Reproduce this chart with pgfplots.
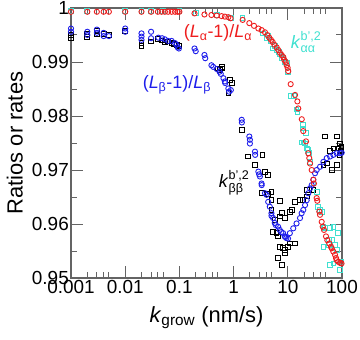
\documentclass[border=0pt]{standalone}
\usepackage{fontspec}
\setmainfont{Liberation Sans}
\usepackage{amsmath}
\usepackage{pgfplots}
\pgfplotsset{compat=1.18}
\definecolor{cred}{RGB}{238,30,30}
\definecolor{cblue}{RGB}{30,30,235}
\definecolor{ccyan}{RGB}{64,224,208}
\definecolor{caxis}{RGB}{100,100,100}
\begin{document}
\begin{tikzpicture}
\path[use as bounding box] (-71bp,-62bp) rectangle (289bp,278bp);
\begin{axis}[
    at={(0,0)}, anchor=south west,
    scale only axis, width=271bp, height=270bp,
    xmode=log, xmin=0.001, xmax=100, ymin=0.95, ymax=1,
    xtick={0.001,0.01,0.1,1,10,100},
    xticklabels={0.001,0.01,0.1,1,10,100},
    minor xtick={0.002,0.003,0.004,0.005,0.02,0.03,0.04,0.05,0.2,0.3,0.4,0.5,2,3,4,5,20,30,40,50},
    ytick={0.95,0.96,0.97,0.98,0.99,1},
    yticklabels={0.95,0.96,0.97,0.98,0.99,1},
    minor ytick={0.955,0.965,0.975,0.985,0.995},
    /pgf/number format/assume math mode=true,
    tick align=inside,
    major tick length=12bp, minor tick length=6bp,
    axis line style={caxis, line width=1.3pt},
    every tick/.style={caxis, line width=1pt},
    tick label style={font=\fontsize{19}{19}\selectfont},
    xticklabel style={inner sep=2bp},
    yticklabel style={inner sep=2bp},
    label style={font=\fontsize{22}{22}\selectfont},
    xlabel={\textit{k}\textsubscript{grow} (nm/s)},
    ylabel={Ratios or rates},
    xlabel style={at={(axis description cs:0.5,-0.148)}, anchor=center},
    ylabel style={at={(axis description cs:-0.207,0.5)}, anchor=center},
    mark options={solid, line width=0.9pt},
]
% k_bb^{b',2}
\addplot[only marks, mark=square, mark size=2.4pt, black] coordinates {
(0.001,0.9950)(0.001,0.9944)(0.002,0.9952)(0.002,0.9947)(0.003,0.9957)(0.003,0.9951)
(0.004,0.9952)(0.005,0.9950)(0.01,0.9958)(0.02,0.9936)(0.02,0.9930)(0.03,0.9938)
(0.04,0.9942)(0.047,0.9940)(0.054,0.9937)(0.062,0.9938)(0.072,0.9936)(0.08,0.9934)
(0.09,0.9932)(0.1,0.9929)(0.52,0.9888)(0.56,0.9885)(0.6,0.9891)(0.62,0.9888)
(0.86,0.9867)(0.92,0.9861)(0.8,0.9842)(1.41,0.9774)(1.86,0.9725)(3.42,0.9728)
(2.48,0.9709)(3.79,0.9697)(4.35,0.9691)(3.28,0.9657)(4.35,0.9656)(4.99,0.9644)
(7.2,0.9643)(4.99,0.9626)(5.74,0.9607)(7.2,0.9614)(8.8,0.9611)(10.9,0.9623)
(6.6,0.9577)(7.2,0.9558)(10.1,0.9558)(4.99,0.9660)(7.7,0.9620)(11.8,0.9626)
(13.6,0.9641)(16.8,0.9644)(19.3,0.9644)(22.3,0.9663)(29.6,0.9663)(22.3,0.9651)
(45.3,0.9709)(52.3,0.9712)(64.6,0.9700)(79.8,0.9709)(79.8,0.9762)(48.4,0.9762)
(85.5,0.9740)(91.8,0.9749)(8.2,0.9555)(8.8,0.9546)(7.7,0.9524)(5.35,0.9586)
(6.2,0.9583)(10.9,0.9564)(13.6,0.9564)(6.6,0.9537)(8.8,0.9552)(95,0.9735)
(98,0.9742)(90,0.9728)(60,0.9735)(70,0.9740)
};
% k_aa^{b',2}
\addplot[only marks, mark=square, mark size=2.4pt, ccyan] coordinates {
(0.001,0.9994)(0.002,0.9994)(0.01,0.9994)(0.02,0.9994)(0.03,0.9994)(0.05,0.9994)
(0.1,0.9994)(0.2,0.9991)(0.5,0.9987)(0.9,0.9982)
(1.45,0.9981)(3.53,0.9953)(4.05,0.9944)(4.9,0.9938)(5.3,0.9925)(6.2,0.9922)
(7.2,0.9914)(8.3,0.9907)(9.5,0.9898)(10.2,0.9882)(4.4,0.9948)(5.8,0.9930)
(6.8,0.9918)(7.8,0.9908)(8.9,0.9900)(11.3,0.9837)(13.2,0.9837)(14.5,0.9812)
(15.0,0.9808)(18.9,0.9783)(19.3,0.9777)(21.7,0.9768)(18.0,0.9751)(20.8,0.9749)
(22.3,0.9740)(24.9,0.9731)(19.5,0.9751)(23.9,0.9737)(25.7,0.9715)(29.6,0.9675)
(34.1,0.9660)(36.6,0.9632)(39.3,0.9626)(42.2,0.9623)(45.3,0.9595)(48.4,0.9592)
(60.2,0.9592)(69.3,0.9595)(85.5,0.9583)(57.3,0.9570)(64.6,0.9570)(58.3,0.9561)
(74.3,0.9561)(45.3,0.9558)(60.2,0.9524)(69.3,0.9527)(91.8,0.9515)(79.8,0.9552)
(95,0.9530)
};
% (L_b-1)/L_b
\addplot[only marks, mark=o, mark size=2.6pt, cblue] coordinates {
(0.001,0.9962)(0.001,0.9956)(0.002,0.9956)(0.002,0.9950)(0.003,0.9960)(0.003,0.9954)
(0.004,0.9954)(0.004,0.9948)(0.005,0.9948)(0.01,0.9962)(0.01,0.9956)(0.02,0.9953)
(0.02,0.9947)(0.02,0.9941)(0.03,0.9956)(0.03,0.9944)(0.041,0.9945)(0.048,0.9944)
(0.054,0.9942)(0.062,0.9939)(0.072,0.9939)(0.083,0.9935)(0.089,0.9932)(0.093,0.9927)
(0.098,0.9925)(0.19,0.9925)(0.2,0.9920)(0.29,0.9913)(0.3,0.9907)(0.39,0.9894)
(0.42,0.9891)(0.49,0.9887)(0.55,0.9882)(0.58,0.9878)(0.65,0.9870)(0.69,0.9864)
(0.7,0.9861)(0.8,0.9851)(0.83,0.9845)(0.89,0.9848)(1.41,0.9793)(1.42,0.9788)
(1.95,0.9762)(2.0,0.9756)(2.0,0.9749)(2.48,0.9734)(2.5,0.9728)(2.86,0.9697)
(2.96,0.9692)(3.06,0.9688)(3.28,0.9675)(3.3,0.9672)(3.79,0.9657)(4.06,0.9654)
(4.35,0.9641)(4.65,0.9632)(4.99,0.9620)(5.0,0.9615)(5.35,0.9611)(5.74,0.9602)
(6.0,0.9598)(6.63,0.9595)(7.11,0.9589)(7.6,0.9585)(8.2,0.9583)(8.8,0.9577)
(9.0,0.9576)(9.4,0.9574)(10.1,0.9573)(10.9,0.9583)(12.6,0.9592)(14.5,0.9601)
(16.8,0.9611)(18.0,0.9620)(19.3,0.9626)(20.8,0.9635)(22.3,0.9644)(23.9,0.9657)
(25.7,0.9666)(27.6,0.9672)(29.6,0.9682)(31.8,0.9694)(34.1,0.9700)(39.3,0.9706)
(45.3,0.9715)(52.3,0.9722)(60.2,0.9725)(69.3,0.9728)(79.8,0.9731)(91.8,0.9731)
(98.8,0.9732)
};
% (L_a-1)/L_a
\addplot[only marks, mark=o, mark size=2.6pt, cred] coordinates {
(0.001,0.9993)(0.002,0.9993)(0.003,0.9993)(0.004,0.9993)(0.005,0.9993)(0.01,0.9993)
(0.02,0.9993)(0.03,0.9993)(0.04,0.9993)(0.047,0.9993)(0.054,0.9993)(0.062,0.9993)
(0.072,0.9993)(0.083,0.9993)(0.093,0.9993)(0.1,0.9993)(0.19,0.9990)(0.29,0.9988)
(0.39,0.9987)(0.49,0.9986)(0.6,0.9985)(0.69,0.9984)(0.8,0.9983)(0.88,0.9981)
(1.47,0.9978)(1.95,0.9972)(2.38,0.9967)(2.86,0.9962)(3.3,0.9959)(3.79,0.9955)
(4.19,0.9950)(4.56,0.9945)(4.9,0.9941)(5.26,0.9937)(5.64,0.9932)(6.24,0.9927)
(6.68,0.9922)(7.18,0.9917)(7.71,0.9913)(8.26,0.9909)(8.61,0.9904)(9.14,0.9900)
(9.52,0.9894)(9.95,0.9889)(10.2,0.9883)(11.3,0.9859)(13.6,0.9839)(15.0,0.9827)
(15.6,0.9814)(18.1,0.9794)(19.3,0.9772)(21.7,0.9753)(23.9,0.9731)(24.9,0.9722)
(25.7,0.9712)(27.6,0.9700)(29.6,0.9682)(30.4,0.9675)(34.1,0.9648)(35.0,0.9643)
(38.1,0.9623)(39.3,0.9617)(42.2,0.9604)(44.1,0.9595)(46.6,0.9589)(50.7,0.9577)
(53.6,0.9570)(58.3,0.9564)(62.7,0.9558)(64.6,0.9555)(69.1,0.9549)(74.3,0.9543)
(77.5,0.9537)(79.8,0.9533)(85.5,0.9530)(91.8,0.9528)(98,0.9527)
};
\node[text=cred, font=\fontsize{18}{18}\selectfont] at (axis cs:0.515,0.99537)
  {(\textit{L}\textsubscript{α}-1)/\textit{L}\textsubscript{α}};
\node[text=cblue, font=\fontsize{18}{18}\selectfont] at (axis cs:0.090,0.98574)
  {(\textit{L}\textsubscript{β}-1)/\textit{L}\textsubscript{β}};
\node[text=ccyan, font=\fontsize{18}{18}\selectfont] at (axis cs:21.7,0.9937)
  {\textit{k}$^{\text{b',2}}_{\text{αα}}$};
\node[text=black, font=\fontsize{18}{18}\selectfont] at (axis cs:1.02,0.96759)
  {\textit{k}$^{\text{b',2}}_{\text{ββ}}$};
\end{axis}
\end{tikzpicture}
\end{document}
